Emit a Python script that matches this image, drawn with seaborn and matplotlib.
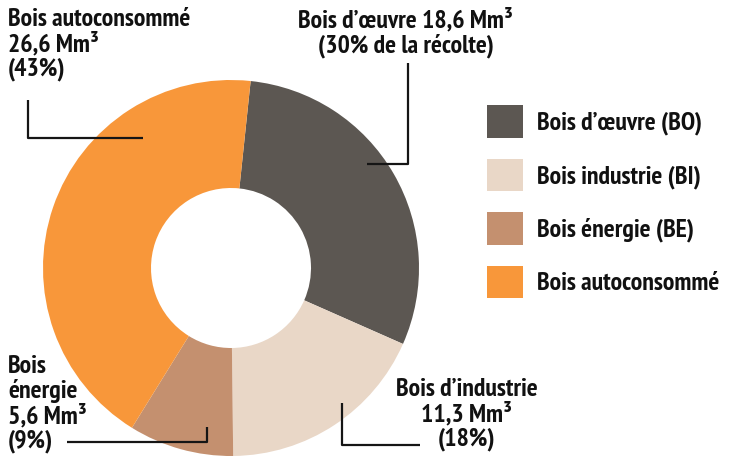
import matplotlib
matplotlib.use("Agg")
import matplotlib.pyplot as plt
from matplotlib import font_manager as fm
import seaborn as sns

categories = ["Bois d\u2019œuvre (BO)", "Bois industrie (BI)", "Bois énergie (BE)", "Bois autoconsommé"]
volumes = [18.6, 11.3, 5.6, 26.6]   # Mm3
percents = [30, 18, 9, 43]
colors = ["#5c5752", "#e9d7c7", "#c4906f", "#f8973a"]

W, H = 730, 461

# a condensed bold sans close to the original typeface
family = "DejaVu Sans"
for cand in ["PT Sans Narrow", "Roboto Condensed", "Open Sans Condensed",
             "Asap Condensed", "Archivo Narrow", "Barlow Condensed"]:
    try:
        fm.findfont(fm.FontProperties(family=cand, weight="bold"), fallback_to_default=False)
        family = cand
        break
    except Exception:
        pass

sns.set_theme(style="white")
plt.rcParams["font.family"] = [family, "DejaVu Sans"]
plt.rcParams["font.weight"] = "bold"

fig = plt.figure(figsize=(W / 100, H / 100), dpi=100)
ax = fig.add_axes([0, 0, 1, 1])

wedges, _ = ax.pie(volumes, colors=sns.color_palette(colors), startangle=84,
                   counterclock=False, center=(231, H - 268), radius=188,
                   wedgeprops=dict(width=108, linewidth=0))
ax.set_xlim(0, W)
ax.set_ylim(0, H)
ax.set_aspect("equal")
ax.axis("off")

def fmt(v):
    return f"{v:.1f}".replace(".", ",")

fs = 18.5
tk = dict(fontsize=fs, fontweight="bold", color="#111111", linespacing=1.05)

ax.text(8, H - 8, f"Bois autoconsommé\n{fmt(volumes[3])} Mm³\n({percents[3]}%)",
        ha="left", va="top", **tk)
ax.text(406, H - 8, f"Bois d\u2019œuvre {fmt(volumes[0])} Mm³\n({percents[0]}% de la récolte)",
        ha="center", va="top", multialignment="center", **tk)
ax.text(8, H - 355, f"Bois\nénergie\n{fmt(volumes[2])} Mm³\n({percents[2]}%)",
        ha="left", va="top", **tk)
ax.text(467, H - 378, f"Bois d\u2019industrie\n{fmt(volumes[1])} Mm³\n({percents[1]}%)",
        ha="center", va="top", multialignment="center", **tk)

# leader lines
lk = dict(color="#151515", lw=1.6, solid_capstyle="butt")
ax.plot([28, 28, 143], [H - 100, H - 138, H - 138], **lk)
ax.plot([367, 408, 408], [H - 164, H - 164, H - 63], **lk)
ax.plot([342, 342, 420], [H - 403, H - 445, H - 445], **lk)
ax.plot([67, 207, 207], [H - 442, H - 442, H - 427], **lk)

leg = ax.legend(wedges, categories, loc="upper left",
                bbox_to_anchor=(487 / W, 1 - 105 / H), frameon=False,
                fontsize=fs, handlelength=1.4, handleheight=1.57,
                handletextpad=0.55, labelspacing=0.82, borderpad=0, borderaxespad=0)
for t in leg.get_texts():
    t.set_fontweight("bold")
    t.set_color("#111111")

fig.savefig("out.png", dpi=100)
